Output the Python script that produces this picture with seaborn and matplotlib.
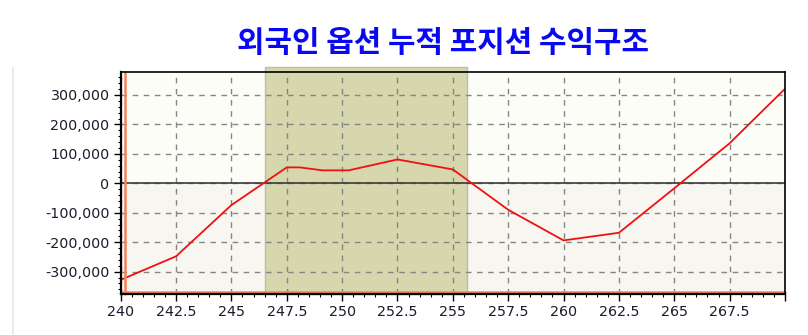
import matplotlib
matplotlib.use("Agg")
import matplotlib.pyplot as plt
from matplotlib.lines import Line2D
from matplotlib.ticker import MultipleLocator, FuncFormatter
import seaborn as sns
import pandas as pd

# ---- data ----
strikes = [240, 242.5, 245, 247.5, 248.1, 249.1, 250.3, 252.5, 255, 257.5, 260, 262.5, 265, 267.5, 270]
pnl = [-328000, -248000, -74000, 54000, 54000, 44000, 44000, 81000, 47000, -90000, -194000, -168000, -17000, 136000, 321000]
breakeven_low = 246.5
breakeven_high = 255.65
title_text = "외국인 옵션 누적 포지션 수익구조"
x_range = (240, 270)
y_range = (-376000, 379000)

df = pd.DataFrame({"strike": strikes, "pnl": pnl})

sns.set_style("white")
plt.rcParams["font.family"] = ["DejaVu Sans"]

fig = plt.figure(figsize=(8.08, 3.35), dpi=100)
fig.patch.set_facecolor("white")
ax = fig.add_axes([120.7 / 808, 1 - 294 / 335, (785 - 120.7) / 808, (294 - 71.7) / 335])

ax.set_xlim(*x_range)
ax.set_ylim(*y_range)
ax.set_facecolor("#FDFDF8")
ax.axhspan(y_range[0], 0, color="#F7F6F0", zorder=0.2, lw=0)

# profitable zone shading
ax.axvspan(breakeven_low, breakeven_high, ymin=0, ymax=1.021, facecolor="#D7D7AE",
           edgecolor="#BDBDA8", lw=1.0, zorder=1, clip_on=False)

ax.axhline(0, color="#3a3a3a", lw=1.2, zorder=2.6)

sns.lineplot(data=df, x="strike", y="pnl", ax=ax, color="#F01010", lw=1.3, zorder=3)

# cursor-like orange lines
ax.plot([0.007, 0.007], [0, 1], transform=ax.transAxes, color="#F2825E", lw=1.8, zorder=3.5, clip_on=False)
ax.plot([0, 1], [0.007, 0.007], transform=ax.transAxes, color="#F2825E", lw=1.8, zorder=3.5, clip_on=False)

ax.xaxis.set_major_locator(MultipleLocator(2.5))
ax.xaxis.set_minor_locator(MultipleLocator(0.5))
ax.yaxis.set_major_locator(MultipleLocator(100000))
ax.yaxis.set_minor_locator(MultipleLocator(20000))
ax.xaxis.set_major_formatter(FuncFormatter(lambda v, p: "" if v >= 269.9 else f"{v:g}"))
ax.yaxis.set_major_formatter(FuncFormatter(lambda v, p: f"{v:,.0f}"))

ax.set_axisbelow(False)
ax.grid(True, which="major", color="#858585", lw=1.0, linestyle=(0, (4, 4)))
ax.set_xlabel("")
ax.set_ylabel("")

ax.tick_params(axis="both", which="major", direction="out", length=5, width=1, color="black",
               labelsize=10.3, labelcolor="#1c1c2c", pad=3, left=True, bottom=True)
ax.tick_params(axis="both", which="minor", direction="out", length=2.5, width=0.8, color="black",
               left=True, bottom=True)

for side in ["left", "bottom"]:
    ax.spines[side].set_linewidth(1.6)
    ax.spines[side].set_color("black")
for side in ["top", "right"]:
    ax.spines[side].set_linewidth(1.2)
    ax.spines[side].set_color("black")
for s in ax.spines.values():
    s.set_zorder(4)

fig.text(443 / 808, 1 - 43 / 335, title_text, ha="center", va="center", fontsize=21.5,
         fontweight="bold", color="#0808F2", family=["Noto Sans CJK KR", "DejaVu Sans"])

fig.add_artist(Line2D([13 / 808, 13 / 808], [0, 1 - 68 / 335], color="#EAEAEA", lw=1.5))

fig.savefig("out.png", dpi=100)
